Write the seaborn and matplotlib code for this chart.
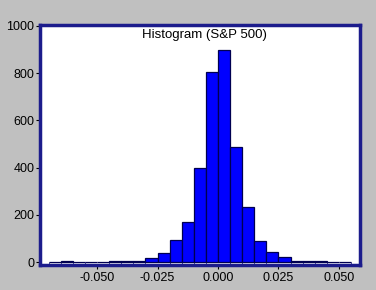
import numpy as np
import pandas as pd
import matplotlib
matplotlib.use("Agg")
import matplotlib.pyplot as plt
import seaborn as sns
from matplotlib.ticker import MultipleLocator

# Data (bin edges every 0.005)
bin_edges = [-0.070, -0.065, -0.060, -0.055, -0.050, -0.045, -0.040, -0.035,
             -0.030, -0.025, -0.020, -0.015, -0.010, -0.005, 0.000, 0.005,
             0.010, 0.015, 0.020, 0.025, 0.030, 0.035, 0.040, 0.045, 0.050, 0.055]
counts = [2, 3, 2, 1, 1, 3, 4, 5, 17, 38, 93, 170, 400, 805, 897, 488,
          233, 90, 42, 21, 5, 4, 3, 2, 2]
x_ticks = [-0.050, -0.025, 0.000, 0.025, 0.050]
x_tick_labels = ["-0.050", "-0.025", "0.000", "0.025", "0.050"]
y_ticks = [0, 200, 400, 600, 800, 1000]
title = "Histogram (S&P 500)"

sns.set_style("white")
plt.rcParams["font.family"] = ["Liberation Sans", "DejaVu Sans"]

centers = [(bin_edges[i] + bin_edges[i + 1]) / 2 for i in range(len(counts))]
df = pd.DataFrame({"ret": centers, "n": counts})

fig = plt.figure(figsize=(3.76, 2.90), dpi=100, facecolor="#c0c0c0")
ax = fig.add_axes([40 / 376, 25 / 290, 320 / 376, 240 / 290])
ax.set_facecolor("white")

sns.histplot(data=df, x="ret", weights="n", bins=bin_edges, ax=ax,
             color="#0000ff", edgecolor="#000050", linewidth=0.9, alpha=1.0)

ax.set_xlim(-0.0736, 0.0587)
ax.set_ylim(-12, 1004)
ax.set_xticks(x_ticks)
ax.set_xticklabels(x_tick_labels)
ax.set_yticks(y_ticks)
ax.xaxis.set_minor_locator(MultipleLocator(0.005))
ax.set_xlabel("")
ax.set_ylabel("")

for s in ax.spines.values():
    s.set_color("#1c1c8c")
    s.set_linewidth(2.5)

ax.tick_params(axis="both", which="major", labelsize=9, colors="#000000",
               length=3, width=0.8, pad=1, direction="out")
ax.tick_params(axis="x", which="minor", length=2, width=0.6, color="#303090",
               direction="in", bottom=True)
ax.tick_params(axis="x", which="major", pad=2, bottom=True)
ax.tick_params(axis="y", which="major", left=True)

ax.text(0.515, 0.985, title, transform=ax.transAxes, ha="center", va="top",
        fontsize=9.5, color="#000000")

fig.savefig("out.png", dpi=100, facecolor=fig.get_facecolor())
